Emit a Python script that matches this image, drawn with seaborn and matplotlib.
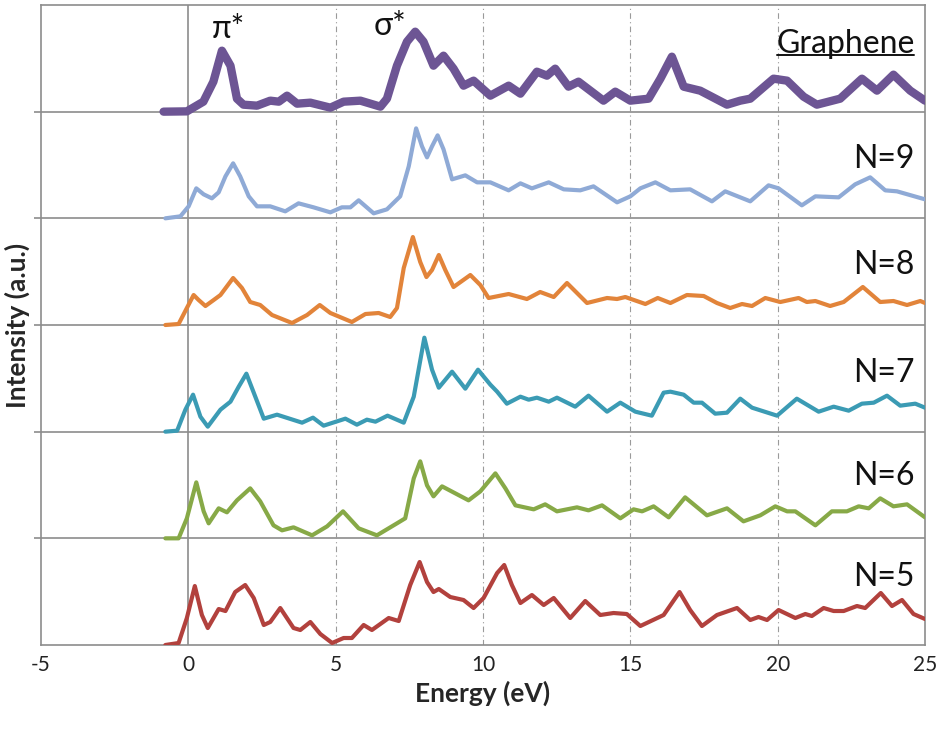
import matplotlib
matplotlib.use("Agg")
import matplotlib.pyplot as plt
from matplotlib.lines import Line2D
from matplotlib.transforms import IdentityTransform
import numpy as np
import pandas as pd
import seaborn as sns

# (energy in eV, intensity in a.u.) for each spectrum
GRAPHENE = [(-0.84, 0), (-0.05, 0.3), (0.51, 10), (0.85, 30), (1.14, 61), (1.43, 46), (1.65, 13),
            (1.87, 7), (2.33, 6), (2.78, 11), (3.07, 10), (3.35, 16), (3.69, 8), (4.14, 9), (4.82, 4),
            (5.27, 10), (5.84, 11), (6.52, 5), (6.74, 13), (7.08, 46), (7.42, 70), (7.70, 80),
            (7.98, 70), (8.32, 46), (8.66, 56), (9.00, 43), (9.34, 26), (9.68, 31), (10.25, 16),
            (10.87, 26), (11.27, 18), (11.83, 40), (12.17, 36), (12.45, 43), (12.90, 25), (13.24, 30),
            (14.09, 11), (14.49, 20), (15.00, 11), (15.62, 13), (16.02, 33), (16.41, 55), (16.81, 25),
            (17.37, 21), (18.28, 7), (18.73, 11), (19.07, 13), (19.86, 33), (20.32, 31), (20.88, 15),
            (21.33, 7), (22.12, 13), (22.86, 33), (23.37, 21), (23.93, 37), (24.50, 21), (25.00, 11)]

N9 = [(-0.78, 0), (-0.27, 2), (0.01, 12), (0.27, 30), (0.52, 24), (0.80, 20), (1.03, 26), (1.26, 42),
      (1.52, 55), (1.76, 42), (2.05, 22), (2.33, 12), (2.78, 12), (3.29, 7), (3.74, 15), (4.25, 11),
      (4.82, 6), (5.21, 11), (5.50, 11), (5.78, 18), (6.29, 5), (6.74, 9), (7.19, 22), (7.48, 52),
      (7.73, 90), (7.93, 72), (8.10, 61), (8.27, 72), (8.46, 83), (8.66, 69), (8.95, 39), (9.40, 43),
      (9.80, 36), (10.25, 36), (10.87, 28), (11.27, 35), (11.66, 30), (12.23, 36), (12.74, 29),
      (13.30, 28), (13.75, 32), (14.55, 16), (15.00, 22), (15.34, 30), (15.85, 36), (16.36, 28),
      (17.03, 29), (17.77, 17), (18.22, 27), (19.07, 17), (19.69, 33), (20.03, 30), (20.82, 13),
      (21.28, 22), (22.07, 21), (22.63, 34), (23.14, 41), (23.65, 28), (24.05, 27), (25.00, 19)]

N8 = [(-0.78, 0), (-0.33, 1), (-0.05, 17), (0.18, 30), (0.35, 25), (0.58, 19), (0.86, 25), (1.09, 30),
      (1.52, 47), (1.82, 37), (2.10, 23), (2.44, 20), (2.84, 10), (3.52, 2), (4.03, 10), (4.46, 20),
      (4.82, 12), (5.55, 3), (6.01, 11), (6.46, 12), (6.85, 8), (7.08, 17), (7.31, 57), (7.62, 88),
      (7.87, 63), (8.08, 48), (8.27, 55), (8.50, 70), (8.72, 55), (9.00, 38), (9.57, 50), (9.91, 40),
      (10.19, 27), (10.87, 31), (11.49, 26), (11.94, 33), (12.40, 28), (12.85, 42), (13.53, 22),
      (14.21, 27), (14.55, 26), (14.83, 28), (15.51, 21), (15.93, 27), (16.36, 22), (16.92, 30),
      (17.49, 29), (17.94, 22), (18.39, 17), (18.79, 21), (19.13, 19), (19.58, 27), (20.09, 23),
      (20.71, 27), (20.99, 23), (21.28, 24), (21.78, 19), (22.24, 23), (22.89, 38), (23.48, 23),
      (23.93, 24), (24.39, 20), (24.84, 24), (25.00, 22)]

N7 = [(-0.78, 0), (-0.38, 1), (-0.10, 22), (0.16, 37), (0.41, 15), (0.66, 5), (1.09, 22), (1.43, 30),
      (1.71, 45), (1.97, 58), (2.22, 39), (2.56, 13), (3.01, 17), (3.86, 9), (4.23, 14), (4.59, 6),
      (5.33, 13), (5.72, 7), (6.06, 12), (6.35, 10), (6.76, 16), (7.31, 9), (7.65, 35), (8.01, 94),
      (8.27, 62), (8.50, 44), (8.95, 60), (9.40, 43), (9.83, 62), (10.25, 47), (10.48, 40),
      (10.81, 28), (11.27, 35), (11.55, 32), (11.83, 34), (12.23, 30), (12.51, 34), (13.13, 25),
      (13.58, 36), (14.21, 20), (14.66, 29), (15.17, 20), (15.73, 16), (16.13, 39), (16.36, 40),
      (16.81, 37), (17.15, 29), (17.43, 29), (17.88, 18), (18.28, 19), (18.73, 33), (19.13, 24),
      (19.98, 16), (20.65, 33), (21.39, 20), (21.90, 25), (22.41, 21), (22.86, 28), (23.26, 29),
      (23.71, 36), (24.16, 26), (24.67, 28), (25.00, 24)]

N6 = [(-0.78, 0), (-0.33, 0), (-0.05, 20), (0.27, 56), (0.52, 27), (0.69, 15), (1.03, 30), (1.31, 26),
      (1.65, 38), (2.10, 50), (2.44, 37), (2.89, 13), (3.18, 8), (3.57, 11), (4.20, 3), (4.71, 12),
      (5.25, 27), (5.78, 10), (6.40, 3), (7.08, 15), (7.36, 20), (7.65, 60), (7.87, 77), (8.10, 53),
      (8.32, 42), (8.61, 52), (9.06, 45), (9.51, 38), (9.91, 47), (10.42, 65), (10.76, 50),
      (11.10, 33), (11.72, 29), (12.11, 34), (12.51, 27), (13.19, 31), (13.58, 28), (14.04, 33),
      (14.66, 20), (15.11, 29), (15.40, 27), (15.79, 32), (16.30, 21), (16.86, 41), (17.60, 23),
      (18.28, 30), (18.84, 17), (19.41, 23), (19.92, 32), (20.32, 27), (20.60, 27), (21.28, 13),
      (21.84, 27), (22.35, 27), (22.75, 32), (23.09, 30), (23.48, 40), (23.93, 32), (24.39, 34),
      (25.00, 21)]

N5 = [(-0.78, 0), (-0.33, 2), (-0.05, 27), (0.22, 59), (0.46, 30), (0.66, 17), (1.03, 36), (1.26, 34),
      (1.59, 53), (1.93, 60), (2.22, 47), (2.56, 20), (2.78, 23), (3.12, 37), (3.57, 17), (3.80, 15),
      (4.14, 23), (4.48, 11), (4.88, 2), (5.27, 7), (5.55, 7), (5.95, 20), (6.23, 15), (6.80, 27),
      (7.14, 24), (7.53, 60), (7.85, 83), (8.10, 63), (8.32, 53), (8.50, 56), (8.89, 48), (9.34, 45),
      (9.68, 37), (10.02, 47), (10.48, 72), (10.72, 80), (10.98, 60), (11.27, 42), (11.66, 50),
      (12.06, 40), (12.40, 47), (12.96, 27), (13.47, 44), (13.98, 30), (14.43, 32), (14.88, 31),
      (15.34, 19), (16.13, 30), (16.67, 53), (17.03, 35), (17.43, 19), (17.94, 30), (18.62, 37),
      (19.07, 25), (19.35, 28), (19.64, 25), (20.03, 35), (20.60, 27), (20.94, 31), (21.16, 29),
      (21.56, 37), (21.90, 34), (22.24, 34), (22.69, 39), (22.97, 37), (23.50, 52), (23.88, 39),
      (24.22, 45), (24.61, 31), (25.00, 26)]

# bottom to top
SERIES_NAMES = ["N=5", "N=6", "N=7", "N=8", "N=9", "Graphene"]
SERIES_DATA = [N5, N6, N7, N8, N9, GRAPHENE]
COLORS = {"N=5": "#B2413D", "N=6": "#87A947", "N=7": "#3B9BB4",
          "N=8": "#E2843A", "N=9": "#8FAAD6", "Graphene": "#6D5594"}
X_TICKS = [-5, 0, 5, 10, 15, 20, 25]
PANEL = 106.7  # vertical spacing between stacked spectra

sns.set_theme(style="white")
plt.rcParams["font.family"] = ["Lato", "DejaVu Sans"]

rows = []
for k, (name, pts) in enumerate(zip(SERIES_NAMES, SERIES_DATA)):
    for e, v in pts:
        rows.append({"series": name, "energy": e, "intensity": v, "y": v + k * PANEL})
df = pd.DataFrame(rows)

fig = plt.figure(figsize=(9.41, 7.42), dpi=100)
ax = fig.add_axes([41 / 941, 1 - 645 / 742, 884 / 941, 640 / 742])

grid_c = "#8C8C8C"
for k in range(1, len(SERIES_NAMES)):
    ax.axhline(k * PANEL, color=grid_c, lw=1.2, zorder=1)
for xv in [5, 10, 15, 20]:
    ax.axvline(xv, color="#9A9A9A", lw=0.8, ls=(0, (5, 3, 1, 3)), zorder=1)
ax.axvline(0, color=grid_c, lw=1.2, zorder=1)

thin = df[df["series"] != "Graphene"]
sns.lineplot(data=thin, x="energy", y="y", hue="series", palette=COLORS,
             estimator=None, sort=False, legend=False, ax=ax, linewidth=3.0,
             solid_joinstyle="round", solid_capstyle="round", zorder=3)
thick = df[df["series"] == "Graphene"]
sns.lineplot(data=thick, x="energy", y="y", hue="series", palette=COLORS,
             estimator=None, sort=False, legend=False, ax=ax, linewidth=6.0,
             solid_joinstyle="round", solid_capstyle="round", zorder=3)

ax.set_xlim(-5, 25)
ax.set_ylim(0, len(SERIES_NAMES) * PANEL)
ax.set_xticks(X_TICKS)
ax.set_xticklabels([str(t) for t in X_TICKS], fontsize=15)
ax.set_yticks([k * PANEL for k in range(1, len(SERIES_NAMES))])
ax.set_yticklabels([])
ax.tick_params(axis="x", length=0, pad=7, colors="#222222")
ax.tick_params(axis="y", length=5, width=1.2, color=grid_c, direction="out", left=True)
for sp in ax.spines.values():
    sp.set_color(grid_c)
    sp.set_linewidth(1.2)
    sp.set_visible(True)

ax.set_xlabel("Energy (eV)", fontsize=19, fontweight="bold", labelpad=4)
ax.set_ylabel("Intensity (a.u.)", fontsize=19, fontweight="bold")
ax.yaxis.set_label_coords(-0.012, 0.5)

# spectrum labels
label_h = {"Graphene": 68, "N=9": 59, "N=8": 60, "N=7": 59, "N=6": 62, "N=5": 68}
texts = {}
for k, name in enumerate(SERIES_NAMES):
    texts[name] = ax.text(24.65, k * PANEL + label_h[name], name, ha="right", va="center",
                          fontsize=23, color="#111111", zorder=5)

ax.text(1.36, 5 * PANEL + 83, "π*", ha="center", va="center", fontsize=23,
        family=["Lato", "DejaVu Sans"], color="#111111", zorder=5)
ax.text(6.85, 5 * PANEL + 86, "σ*", ha="center", va="center", fontsize=23,
        family=["Lato", "DejaVu Sans"], color="#111111", zorder=5)

# underline under the Graphene label
fig.canvas.draw()
bb = texts["Graphene"].get_window_extent(renderer=fig.canvas.get_renderer())
uy = bb.y0 + 4
fig.add_artist(Line2D([bb.x0 + 1, bb.x1 - 1], [uy, uy], transform=IdentityTransform(),
                      color="#111111", lw=1.4))

fig.savefig("out.png", dpi=100)
